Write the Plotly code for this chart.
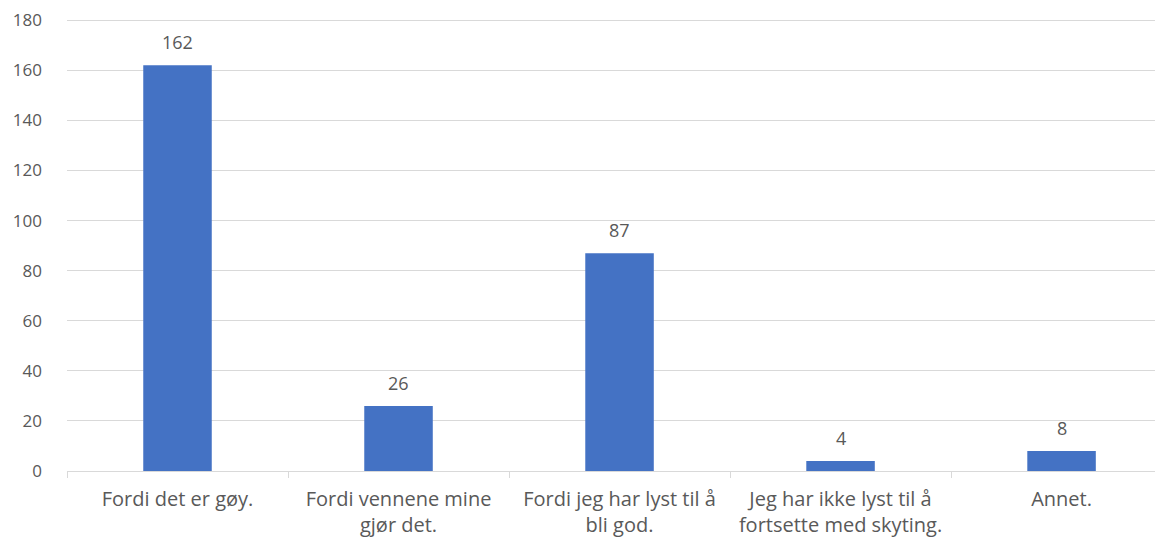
import plotly.graph_objects as go

categories = ["Fordi det er gøy.", "Fordi vennene mine<br>gjør det.", "Fordi jeg har lyst til å<br>bli god.",
              "Jeg har ikke lyst til å<br>fortsette med skyting.", "Annet."]
values = [162, 26, 87, 4, 8]
y_ticks = [0, 20, 40, 60, 80, 100, 120, 140, 160, 180]

grey = "#595959"
FONT = "Open Sans, Liberation Sans, sans-serif"
fig = go.Figure(go.Bar(
    x=categories, y=values,
    marker=dict(color="#4472C4", line=dict(width=0)),
    width=0.31,
))
for c, v in zip(categories, values):
    fig.add_annotation(x=c, y=v, text=str(v), showarrow=False, yanchor="bottom", yshift=9,
                       font=dict(color=grey, size=18, family=FONT))
fig.update_layout(
    width=1155, height=533,
    margin=dict(l=59, r=0, t=11, b=70),
    plot_bgcolor="white", paper_bgcolor="white",
    font=dict(family=FONT, color=grey, size=18),
    showlegend=False,
    xaxis=dict(range=[-0.5, 4.459], showgrid=False, showline=True, linecolor="#d9d9d9", linewidth=1,
               ticks="outside", tickson="boundaries", ticklen=6, tickcolor="#d9d9d9",
               tickfont=dict(size=20, color=grey), automargin=False, ticklabelstandoff=10),
    yaxis=dict(range=[0, 180.5], tickvals=y_ticks, showgrid=True, gridcolor="#d9d9d9", gridwidth=1,
               zeroline=False, showline=False, ticks="", tickfont=dict(size=17, color=grey),
               automargin=False, ticklabelstandoff=24, ticklabeloverflow="allow"),
)
fig.write_html("out.html")
